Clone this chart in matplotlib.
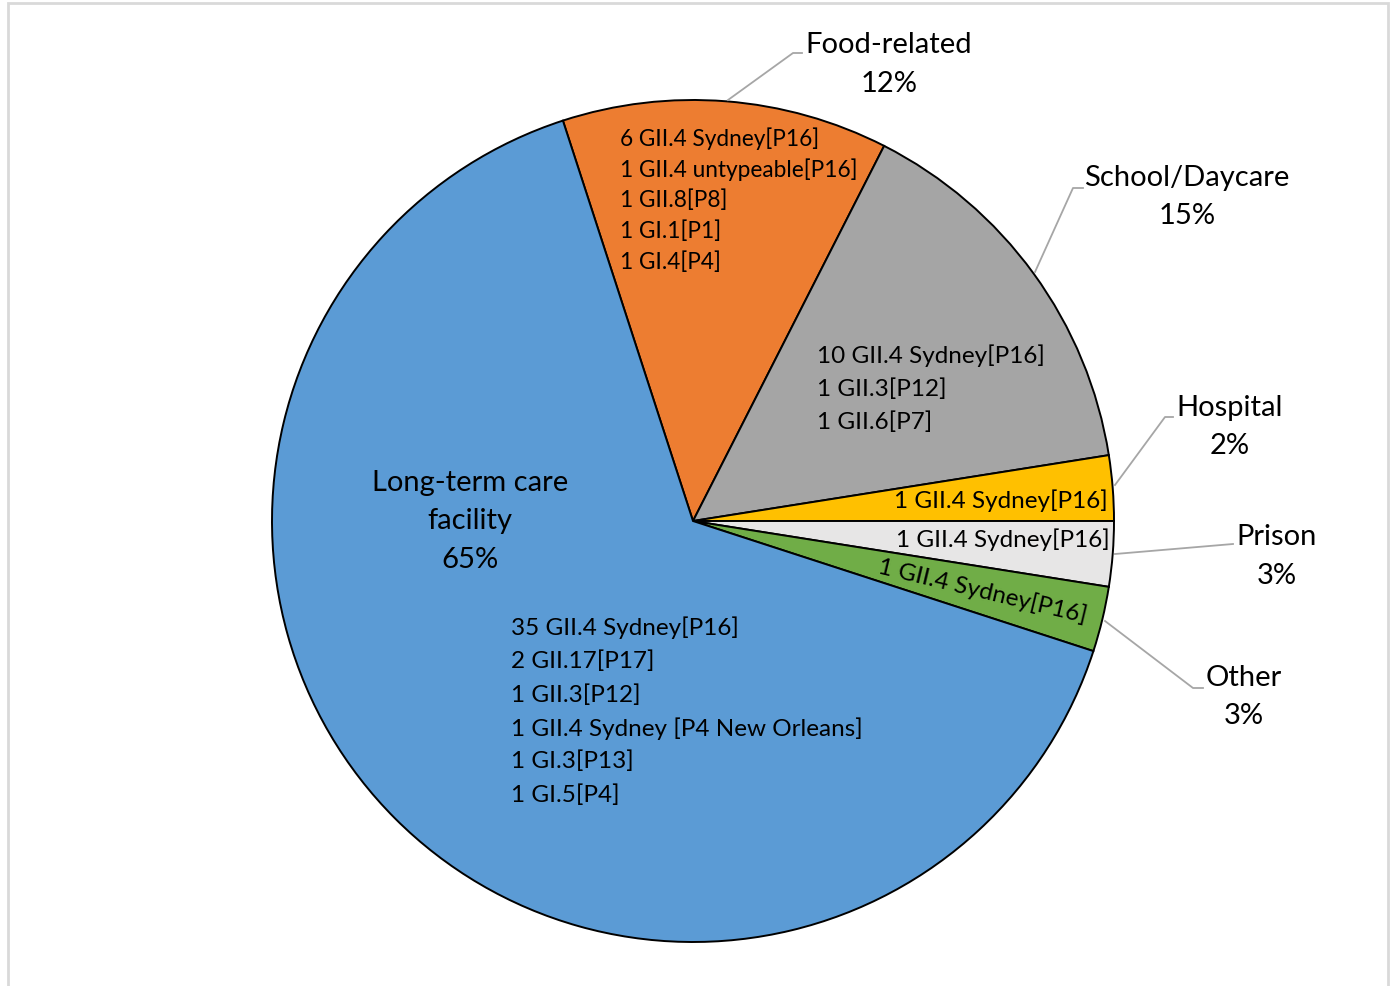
import matplotlib.pyplot as plt
from matplotlib.patches import Rectangle

plt.rcParams['font.family'] = ['Lato', 'DejaVu Sans']

# outbreak settings, clockwise from the top-left edge of the orange slice
settings = ['Food-related', 'School/Daycare', 'Hospital', 'Prison', 'Other',
            'Long-term care\nfacility']
outbreaks = [5, 6, 1, 1, 1, 26]
pct_labels = ['12%', '15%', '2%', '3%', '3%', '65%']
colors = ['#ED7D31', '#A5A5A5', '#FFC000', '#E7E6E6', '#70AD47', '#5B9BD5']

# genotypes per setting
food_types = ['6 GII.4 Sydney[P16]', '1 GII.4 untypeable[P16]', '1 GII.8[P8]',
              '1 GI.1[P1]', '1 GI.4[P4]']
school_types = ['10 GII.4 Sydney[P16]', '1 GII.3[P12]', '1 GII.6[P7]']
hospital_types = ['1 GII.4 Sydney[P16]']
prison_types = ['1 GII.4 Sydney[P16]']
other_types = ['1 GII.4 Sydney[P16]']
ltc_types = ['35 GII.4 Sydney[P16]', '2 GII.17[P17]', '1 GII.3[P12]',
             '1 GII.4 Sydney [P4 New Orleans]', '1 GI.3[P13]', '1 GI.5[P4]']

W, H = 1395, 986
CX, CY, R = 693, 521, 421  # pie centre and radius in pixels
L = 1.1

fig = plt.figure(figsize=(W / 100, H / 100), dpi=100)
ax = fig.add_axes([(CX - R * L) / W, (H - CY - R * L) / H,
                   2 * R * L / W, 2 * R * L / H])

# chart area border
fig.add_artist(Rectangle((8 / W, -0.1), (1388 - 8) / W, 1.1 - 3 / H,
                         transform=fig.transFigure, fill=False,
                         edgecolor='#D9D9D9', linewidth=2))

ax.pie(outbreaks, colors=colors, startangle=108, counterclock=False, radius=1,
       wedgeprops=dict(edgecolor='black', linewidth=1.4))
ax.set_xlim(-L, L)
ax.set_ylim(-L, L)
ax.set_aspect('equal')
ax.axis('off')


def p(x, y):
    return (x - CX) / R, (CY - y) / R


def block(lines, x, y0, step, size=17.5, ha='left'):
    for i, s in enumerate(lines):
        ax.text(*p(x, y0 + i * step), s, fontsize=size, ha=ha, va='center',
                color='black')


# genotype text inside slices
block(food_types, 620, 139, 30.8, size=16.3)
block(school_types, 817, 356, 33)
block(ltc_types, 511, 628, 33.4)
block(hospital_types, 1108, 501, 0, ha='right')
block(prison_types, 1110, 540, 0, ha='right')
ax.text(*p(983, 591), other_types[0], fontsize=17.5, ha='center', va='center',
        rotation=-13.5, rotation_mode='anchor')

# category labels
label_pos = [(889, 45), (1187, 178), (1230, 408), (1277, 537), (1244, 678)]
for name, pct, (x, y) in zip(settings[:5], pct_labels[:5], label_pos):
    block([name, pct], x, y, 38.5, size=21, ha='center')
block(settings[5].split('\n') + [pct_labels[5]], 470, 483, 38.5, size=21,
      ha='center')

# leader lines
leaders = [
    [(728, 100), (793, 53), (802, 53)],
    [(1035, 272), (1073, 188), (1083, 188)],
    [(1115, 485), (1165, 417), (1173, 417)],
    [(1115, 554), (1233, 544)],
    [(1105, 621), (1193, 688), (1203, 688)],
]
for pts in leaders:
    xy = [p(x, y) for x, y in pts]
    ax.plot([a for a, b in xy], [b for a, b in xy], color='#A6A6A6',
            linewidth=1.3, clip_on=False)

fig.savefig('out.png', dpi=100)
